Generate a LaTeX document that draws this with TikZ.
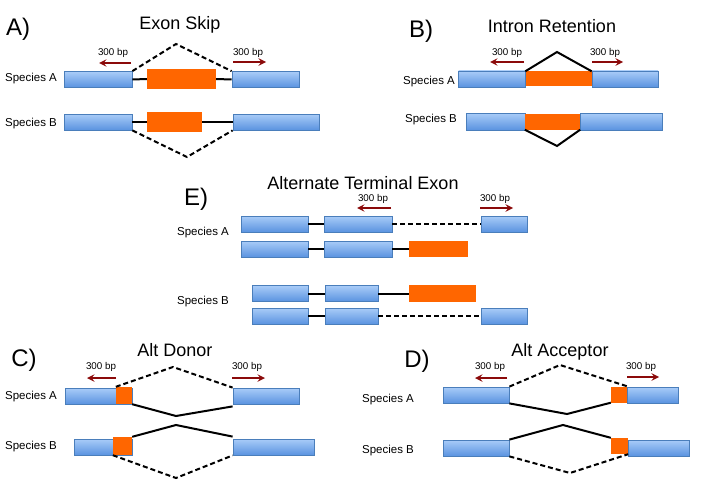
\documentclass[tikz,border=0pt]{standalone}
\usepackage{fontspec}
\setmainfont{Liberation Sans}
\usepackage{tikz}
\usetikzlibrary{shapes,arrows}

\definecolor{exontop}{HTML}{A9CCF8}
\definecolor{exonbot}{HTML}{5A93E0}
\definecolor{exonedge}{HTML}{4A7EBB}
\definecolor{altorange}{HTML}{FF6600}
\definecolor{bpred}{HTML}{8B0A0A}

\begin{document}
\begin{tikzpicture}[x=1pt, y=-1pt,
  exon/.style={draw=exonedge, line width=0.8pt, top color=exontop, bottom color=exonbot, inner sep=0pt, minimum height=16pt},
  alt/.style={fill=altorange, draw=none, inner sep=0pt, minimum height=20pt},
  intron/.style={line width=2pt},
  skipped/.style={line width=2pt, dash pattern=on 5pt off 3pt},
  bparrow/.style={line width=2.2pt, ->, >=stealth, color=bpred},
  bp/.style={font=\fontsize{9.8}{11}\selectfont},
  species/.style={font=\fontsize{11.5}{13}\selectfont},
  ttl/.style={font=\fontsize{18}{20}\selectfont},
  pnl/.style={font=\fontsize{24}{26}\selectfont}]

\useasboundingbox (0,0) rectangle (710,495);

% A) exon skip
\node[pnl] (Alab) at (18,29) {A)};
\node[ttl] (Attl) at (180,25) {Exon Skip};
\node[species] (AspA) at (31,79) {Species A};
\node[species] (AspB) at (31,124) {Species B};
\node[exon, minimum width=68pt] (aA1) at (98,79.5) {};
\node[alt, minimum width=69pt] (aAo) at (181.5,79) {};
\node[exon, minimum width=67pt] (aA2) at (265.5,79.5) {};
\node[exon, minimum width=68pt] (aB1) at (98,122) {};
\node[alt, minimum width=55pt] (aBo) at (174.5,122) {};
\node[exon, minimum width=86pt] (aB2) at (276,122) {};
\coordinate (aApk) at (176,44);
\coordinate (aBpk) at (187,157);
\draw [intron] (aA1.east) -- (aAo.west);
\draw [intron] (aAo.east) -- (aA2.west);
\draw [skipped] (aA1.north east) -- (aApk) -- (aA2.north west);
\draw [intron] (aB1.east) -- (aBo.west);
\draw [intron] (aBo.east) -- (aB2.west);
\draw [skipped] (aB1.south east) -- (aBpk) -- (aB2.south west);
\node[bp] (AbpL) at (113,53) {300 bp};
\node[bp] (AbpR) at (248,53) {300 bp};
\draw [bparrow] (131,63) -- (99,63);
\draw [bparrow] (233,62) -- (266,62);

% B) intron retention
\node[pnl] (Blab) at (421,31) {B)};
\node[ttl] (Bttl) at (552,26) {Intron Retention};
\node[species] (BspA) at (429,82) {Species A};
\node[species] (BspB) at (431,120) {Species B};
\node[exon, minimum width=67pt] (bA1) at (492,79) {};
\node[exon, minimum width=66pt] (bA2) at (625,79) {};
\node[alt, minimum width=66pt, minimum height=15pt] (bAo) at (558.5,79) {};
\node[exon, minimum width=59pt, minimum height=17pt] (bB1) at (495.5,121.5) {};
\node[exon, minimum width=82pt, minimum height=17pt] (bB2) at (621,121.5) {};
\node[alt, minimum width=55pt, minimum height=16pt] (bBo) at (552.5,121.5) {};
\coordinate (bApk) at (557,52);
\coordinate (bBpk) at (557,146);
\draw [intron] (bAo.north west) -- (bApk) -- (bAo.north east);
\draw [intron] (bBo.south west) -- (bBpk) -- (bBo.south east);
\node[bp] (BbpL) at (507,53) {300 bp};
\node[bp] (BbpR) at (605,53) {300 bp};
\draw [bparrow] (524,62) -- (490,62);
\draw [bparrow] (592,62) -- (623,62);

% E) alternate terminal exon
\node[pnl] (Elab) at (196,199) {E)};
\node[ttl] (Ettl) at (363,183) {Alternate Terminal Exon};
\node[species] (EspA) at (203,233) {Species A};
\node[species] (EspB) at (203,302) {Species B};
\node[exon, minimum width=67pt] (eA1a) at (274.5,224) {};
\node[exon, minimum width=68pt] (eA1b) at (358,224) {};
\node[exon, minimum width=46pt] (eA1c) at (504,224) {};
\node[exon, minimum width=67pt] (eA2a) at (274.5,249) {};
\node[exon, minimum width=68pt] (eA2b) at (358,249) {};
\node[alt, minimum width=59pt, minimum height=16pt] (eA2o) at (438.5,249) {};
\node[exon, minimum width=56pt] (eB1a) at (280,293.5) {};
\node[exon, minimum width=53pt] (eB1b) at (351.5,293.5) {};
\node[alt, minimum width=67pt, minimum height=17pt] (eB1o) at (442.5,293.5) {};
\node[exon, minimum width=56pt] (eB2a) at (280,316) {};
\node[exon, minimum width=53pt] (eB2b) at (351.5,316) {};
\node[exon, minimum width=46pt] (eB2c) at (504,316) {};
\draw [intron] (eA1a) -- (eA1b);
\draw [skipped] (eA1b) -- (eA1c);
\draw [intron] (eA2a) -- (eA2b);
\draw [intron] (eA2b) -- (eA2o);
\draw [intron] (eB1a) -- (eB1b);
\draw [intron] (eB1b) -- (eB1o);
\draw [intron] (eB2a) -- (eB2b);
\draw [skipped] (eB2b) -- (eB2c);
\node[bp] (EbpL) at (373,199) {300 bp};
\node[bp] (EbpR) at (495,199) {300 bp};
\draw [bparrow] (391,208) -- (357,208);
\draw [bparrow] (480,208) -- (513,208);

% C) alt donor
\node[pnl] (Clab) at (24,360) {C)};
\node[ttl] (Cttl) at (175,350) {Alt Donor};
\node[species] (CspA) at (31,397) {Species A};
\node[species] (CspB) at (31,447) {Species B};
\node[exon, minimum width=67pt] (cA1) at (98.5,396) {};
\node[alt, minimum width=16pt, minimum height=17pt] (cAo) at (124,395.5) {};
\node[exon, minimum width=66pt] (cA2) at (266,396) {};
\node[exon, minimum width=58pt] (cB1) at (103,447) {};
\node[alt, minimum width=19pt, minimum height=18pt] (cBo) at (122.5,446) {};
\node[exon, minimum width=81pt] (cB2) at (273.5,447) {};
\coordinate (cApk) at (173,367);
\coordinate (cAlo) at (176,416);
\coordinate (cBpk) at (176,425);
\coordinate (cBlo) at (176,478);
\draw [skipped] (cAo.north west) -- (cApk) -- (cA2.north west);
\draw [intron] (cAo.south east) -- (cAlo) -- ([yshift=-2pt]cA2.south west);
\draw [intron] (cBo.north east) -- (cBpk) -- ([yshift=2pt]cB2.north west);
\draw [skipped] (cBo.south west) -- (cBlo) -- (cB2.south west);
\node[bp] (CbpL) at (101,367) {300 bp};
\node[bp] (CbpR) at (247,367) {300 bp};
\draw [bparrow] (116,378) -- (87,378);
\draw [bparrow] (232,378) -- (265,378);

% D) alt acceptor
\node[pnl] (Dlab) at (417,361) {D)};
\node[ttl] (Dttl) at (560,352) {Alt Acceptor};
\node[species] (DspA) at (388,400) {Species A};
\node[species] (DspB) at (388,451) {Species B};
\node[exon, minimum width=66pt] (dA1) at (476,395) {};
\node[exon, minimum width=51pt] (dA2) at (652.5,395) {};
\node[alt, minimum width=16pt, minimum height=16pt] (dAo) at (619,394.5) {};
\node[exon, minimum width=66pt] (dB1) at (476,448) {};
\node[exon, minimum width=61pt] (dB2) at (658.5,448) {};
\node[alt, minimum width=17pt, minimum height=16pt] (dBo) at (619.5,446) {};
\coordinate (dApk) at (560,365);
\coordinate (dAlo) at (567,414);
\coordinate (dBpk) at (563,425);
\coordinate (dBlo) at (570,473);
\draw [skipped] (dA1.north east) -- (dApk) -- (dAo.north east);
\draw [intron] (dA1.south east) -- (dAlo) -- (dAo.south west);
\draw [intron] (dB1.north east) -- (dBpk) -- (dBo.north west);
\draw [skipped] (dB1.south east) -- (dBlo) -- (dBo.south east);
\node[bp] (DbpL) at (490,367) {300 bp};
\node[bp] (DbpR) at (641,367) {300 bp};
\draw [bparrow] (507,378) -- (475,378);
\draw [bparrow] (627,377) -- (659,377);

\end{tikzpicture}
\end{document}
